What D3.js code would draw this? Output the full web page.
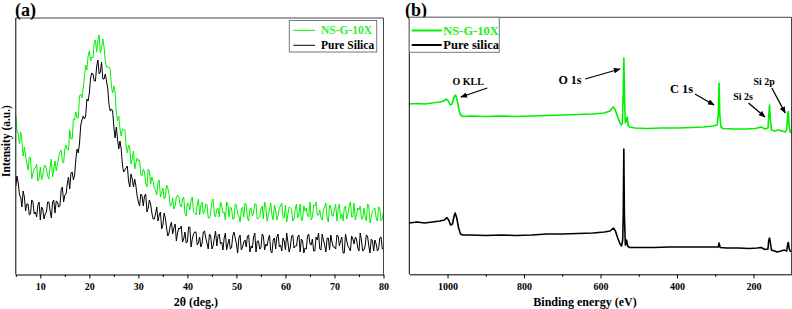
<!DOCTYPE html>
<html><head><meta charset="utf-8">
<script src="https://cdn.jsdelivr.net/npm/d3@7"></script>
<style>
body{margin:0;background:#fff;}
svg{display:block;font-family:"Liberation Serif","Times New Roman",serif;font-weight:bold;}
</style></head><body>
<svg id="c" width="792" height="309"></svg>
<script>
// ---------- Panel (a): XRD (2θ from 5° in 0.25° steps) ----------
const xrdStart = 5, xrdStep = 0.25;
const xrdNSG10X = [
160,144,141,131,143,134,119,128,119,112,105,118,117,96,102,106,107,111,94,97,108,95,100,108,110,106,99,96,108,116,98,106,114,104,111,118,123,125,113,112,
126,130,125,125,145,136,136,156,155,163,157,157,179,181,177,187,198,210,205,219,224,214,218,217,233,235,223,235,240,222,227,236,228,214,208,208,208,206,189,182,
189,183,163,154,159,146,139,146,145,145,129,122,130,127,111,116,124,106,112,117,114,115,100,99,106,103,92,88,106,103,91,98,94,87,85,80,93,95,78,82,
87,76,78,90,87,81,69,70,77,66,69,78,80,78,70,68,76,78,62,59,72,71,65,75,78,63,62,60,70,76,60,70,73,61,64,71,70,57,57,62,
74,76,61,58,66,67,58,73,70,62,63,55,73,70,58,68,67,56,56,71,70,61,59,53,65,68,58,72,70,57,54,66,67,59,62,71,71,56,57,58,
66,69,56,73,68,54,60,65,72,60,55,70,65,55,59,67,69,72,58,57,70,53,61,68,67,66,54,56,66,71,57,61,71,54,56,69,64,67,59,58,
73,55,58,70,69,73,60,60,65,57,55,65,68,72,57,53,70,68,59,59,66,71,54,66,71,56,61,54,67,69,56,61,69,73,58,58,72,55,60,67,
65,69,56,56,67,59,54,71,69,52,58,64,65,67,57,54,68,67,54,56,64];
const xrdPureSilica = [
89,99,92,80,78,68,84,78,64,71,71,60,61,75,73,61,63,58,70,73,55,68,66,56,61,63,73,73,64,57,73,75,62,74,73,68,69,85,88,73,
80,81,91,98,86,102,103,95,100,116,126,122,132,150,155,159,156,159,176,174,182,197,202,201,194,194,209,215,201,203,213,196,196,201,194,187,171,164,166,164,
148,137,148,136,126,134,126,110,103,105,107,109,94,88,101,96,88,96,89,79,73,69,81,79,69,79,81,63,67,75,71,62,56,56,61,68,54,60,63,46,
50,62,57,47,39,42,49,53,41,47,51,34,42,47,46,49,33,36,43,32,33,48,48,28,36,41,43,43,30,32,38,28,32,43,44,37,32,26,41,39,
26,29,37,44,29,39,41,31,33,25,37,42,25,31,36,26,27,39,43,37,31,22,37,40,25,28,33,35,28,39,40,23,29,27,38,42,23,34,34,26,
27,41,39,25,31,29,36,40,24,22,35,37,26,38,41,28,30,24,37,34,25,42,33,23,28,39,40,27,29,29,38,40,23,36,34,22,27,26,39,41,
31,30,36,24,24,38,35,42,26,25,41,35,30,23,37,37,25,40,33,28,28,26,40,39,29,34,38,22,22,41,34,29,27,24,39,36,31,38,36,27,
24,42,35,24,25,29,40,39,29,22,36,34,24,35,31,24,26,37,38,26,27];
const xrdXTicks = [10,20,30,40,50,60,70,80];
const xrdXMinor = [5,15,25,35,45,55,65,75];
const xrdSeries = ["NS-G-10X","Pure Silica"];

// ---------- Panel (b): XPS survey ----------
const xpsBE_NSG = [1100,1080,1060,1040,1020,1010,1003,998,993,988,983,979,975,970,966,960,940,900,860,820,780,740,700,660,620,590,575,567,562,556,550,546,543,541,539,537,535,532,530,528,524,510,480,440,400,360,330,305,295,292,290,288,285,280,250,220,195,180,170,162,160,158,156,153,145,135,125,118,113,110,108.5,107,104,100];
const xpsI_NSG  = [171,171.5,171,172,173,174,176,174,170,171,178,180,175,165,160,158.5,159,158.5,159,158.5,159,159.5,160,160.5,161,162,164,168,166,159,153,150,151,175,217,175,152,155,158,150,148,147,146.5,147,147,147.5,148,149,150,160,192,160,148,146.5,146,146,146.5,148,146,147,160,170,157,145,144,145,144,143,145,163,163.5,150,143,142];
const xpsBE_Pure = [1100,1080,1060,1040,1020,1008,1002,997,992,987,983,980,976,971,966,960,940,900,860,820,780,740,700,660,620,590,575,566,561,555,549,545,542,540.5,539,537.5,535,532,529,524,500,460,420,380,340,300,292,290,287,270,240,210,190,180,170,162,160,158,156,153,145,138,128,120,113,110,108.5,107,104,100];
const xpsI_Pure  = [52,53,52,53,54,55,57.5,55,50,51,59,62,57,47,41,40,40,39.5,40,39.5,40,41,41,41.5,42,43,44,47,44,37,31,29,35,60,126,60,30,35,29,27.5,27.5,27.5,28,28,28,28,28,32,27.5,27,27,26.5,27,27.5,25.5,26,35,37,33,25,24,23,24,25,24,32,32.5,27,24,23.5];
const xpsXTicks = [1000,800,600,400,200];
const xpsXMinor = [900,700,500,300];
const xpsSeries = ["NS-G-10X","Pure silica"];
const xpsPeakLabels = ["O KLL","O 1s","C 1s","Si 2s","Si 2p"];
const xpsLabelBE   = [946,680,388,227,172];
const xpsLabelI    = [190,191,182,175,190];
const xpsArrowFromBE = [896,640,353,213,152];
const xpsArrowFromI  = [187,196,181,172,187];
const xpsArrowToBE   = [965,549,303,170,117];
const xpsArrowToI    = [178,206,170,158,162];

const GREEN = "#00f000", BLACK = "#000";
const svg = d3.select("#c");
const defs = svg.append("defs");
defs.append("marker").attr("id","ah").attr("viewBox","0 -4 10 8")
  .attr("refX",9).attr("refY",0).attr("markerWidth",7).attr("markerHeight",5.5)
  .attr("markerUnits","userSpaceOnUse").attr("orient","auto")
  .append("path").attr("d","M0,-4L10,0L0,4Z").attr("fill","#000");

// ===== Panel A =====
const A = {l:15.8, r:383.5, t:18, b:274.5};
const xA = d3.scaleLinear().domain([5,80]).range([A.l, A.r]);
const yA = d3.scaleLinear().domain([0,257]).range([275,18]);
const gA = svg.append("g");
gA.append("defs").append("clipPath").attr("id","clipA").append("rect")
  .attr("x",A.l).attr("y",A.t).attr("width",A.r-A.l).attr("height",A.b-A.t);
const lineA = d3.line().x((d,i)=>xA(xrdStart+i*xrdStep)).y(d=>yA(d));
gA.append("path").datum(xrdNSG10X).attr("d",lineA).attr("fill","none")
  .attr("stroke",GREEN).attr("stroke-width",1).attr("clip-path","url(#clipA)");
gA.append("path").datum(xrdPureSilica).attr("d",lineA).attr("fill","none")
  .attr("stroke",BLACK).attr("stroke-width",1).attr("clip-path","url(#clipA)");
gA.append("line").attr("x1",A.l).attr("x2",A.r).attr("y1",A.t).attr("y2",A.t).attr("stroke","#444");
gA.append("line").attr("x1",A.r).attr("x2",A.r).attr("y1",A.t).attr("y2",A.b).attr("stroke","#444");
gA.append("line").attr("x1",A.l).attr("x2",A.l).attr("y1",A.t).attr("y2",A.b).attr("stroke","#000");
const axA = gA.append("g").attr("transform",`translate(0,${A.b})`)
  .call(d3.axisBottom(xA).tickValues(xrdXTicks).tickSize(4).tickPadding(4.5).tickSizeOuter(0));
axA.selectAll("text").attr("font-size",10).attr("font-family","Liberation Serif").attr("font-weight","bold");
gA.append("g").attr("transform",`translate(0,${A.b})`)
  .call(d3.axisBottom(xA).tickValues(xrdXMinor).tickSize(2.5).tickFormat("").tickSizeOuter(0))
  .select(".domain").remove();
gA.append("text").attr("x",196).attr("y",305.5).attr("text-anchor","middle").attr("font-size",12).text("2θ (deg.)");
gA.append("text").attr("transform","translate(10,141) rotate(-90)").attr("text-anchor","middle").attr("font-size",11.5).text("Intensity (a.u.)");
gA.append("text").attr("x",15).attr("y",16).attr("font-size",18).text("(a)");
const lgA = gA.append("g");
lgA.append("rect").attr("x",289.3).attr("y",20.5).attr("width",87.4).attr("height",31.5).attr("fill","#fff").attr("stroke","#777").attr("stroke-width",1);
[GREEN,BLACK].forEach((c,i)=>{
  const yy = 30.3 + i*15;
  lgA.append("line").attr("x1",293.3).attr("x2",315).attr("y1",yy).attr("y2",yy).attr("stroke",c).attr("stroke-width",1);
  lgA.append("text").attr("x",321).attr("y",yy+4).attr("font-size",11.5).attr("fill",c===GREEN?"#33ee33":"#000").text(xrdSeries[i]);
});

// ===== Panel B =====
const B = {l:409.3, r:791.5, t:17.3, b:274.3};
const xB = d3.scaleLinear().domain([1100,100]).range([B.l, 791.7]);
const yB = d3.scaleLinear().domain([0,257]).range([275,18]);
const gB = svg.append("g");
const lineB = d3.line().x(d=>xB(d[0])).y(d=>yB(d[1]));
gB.append("path").datum(xpsBE_NSG.map((b,i)=>[b,xpsI_NSG[i]])).attr("d",lineB).attr("fill","none")
  .attr("stroke",GREEN).attr("stroke-width",1.6).attr("stroke-linejoin","round");
gB.append("path").datum(xpsBE_Pure.map((b,i)=>[b,xpsI_Pure[i]])).attr("d",lineB).attr("fill","none")
  .attr("stroke",BLACK).attr("stroke-width",1.6).attr("stroke-linejoin","round");
gB.append("line").attr("x1",B.l).attr("x2",B.r).attr("y1",B.t).attr("y2",B.t).attr("stroke","#444");
gB.append("line").attr("x1",B.r).attr("x2",B.r).attr("y1",B.t).attr("y2",B.b).attr("stroke","#444");
gB.append("line").attr("x1",B.l).attr("x2",B.l).attr("y1",B.t).attr("y2",B.b).attr("stroke","#000");
const axB = gB.append("g").attr("transform",`translate(0,${B.b})`)
  .call(d3.axisBottom(xB).tickValues(xpsXTicks).tickFormat(d3.format("d")).tickSize(4).tickPadding(4.5).tickSizeOuter(0));
axB.selectAll("text").attr("font-size",10).attr("font-family","Liberation Serif").attr("font-weight","bold");
gB.append("g").attr("transform",`translate(0,${B.b})`)
  .call(d3.axisBottom(xB).tickValues(xpsXMinor).tickSize(2.5).tickFormat("").tickSizeOuter(0))
  .select(".domain").remove();
gB.append("text").attr("x",585).attr("y",305.5).attr("text-anchor","middle").attr("font-size",12).text("Binding energy (eV)");
gB.append("text").attr("x",405).attr("y",16).attr("font-size",18).text("(b)");
const lgB = gB.append("g");
lgB.append("rect").attr("x",B.l).attr("y",B.t).attr("width",90).attr("height",35).attr("fill","#fff").attr("stroke","#777").attr("stroke-width",1);
[GREEN,BLACK].forEach((c,i)=>{
  const yy = 30.5 + i*14.5;
  lgB.append("line").attr("x1",411.7).attr("x2",441.7).attr("y1",yy).attr("y2",yy).attr("stroke",c).attr("stroke-width",2);
  lgB.append("text").attr("x",443.3).attr("y",yy+4.3).attr("font-size",12.5).attr("fill",c===GREEN?"#22ee22":"#000").text(xpsSeries[i]);
});
const labelSizes = [10,12,12.5,10,10];
xpsPeakLabels.forEach((lab,i)=>{
  gB.append("text").attr("x",xB(xpsLabelBE[i])).attr("y",yB(xpsLabelI[i])).attr("text-anchor","middle")
    .attr("font-size",labelSizes[i]).text(lab);
  gB.append("line").attr("x1",xB(xpsArrowFromBE[i])).attr("y1",yB(xpsArrowFromI[i]))
    .attr("x2",xB(xpsArrowToBE[i])).attr("y2",yB(xpsArrowToI[i]))
    .attr("stroke","#000").attr("stroke-width",1.3).attr("marker-end","url(#ah)");
});
</script>
</body></html>
